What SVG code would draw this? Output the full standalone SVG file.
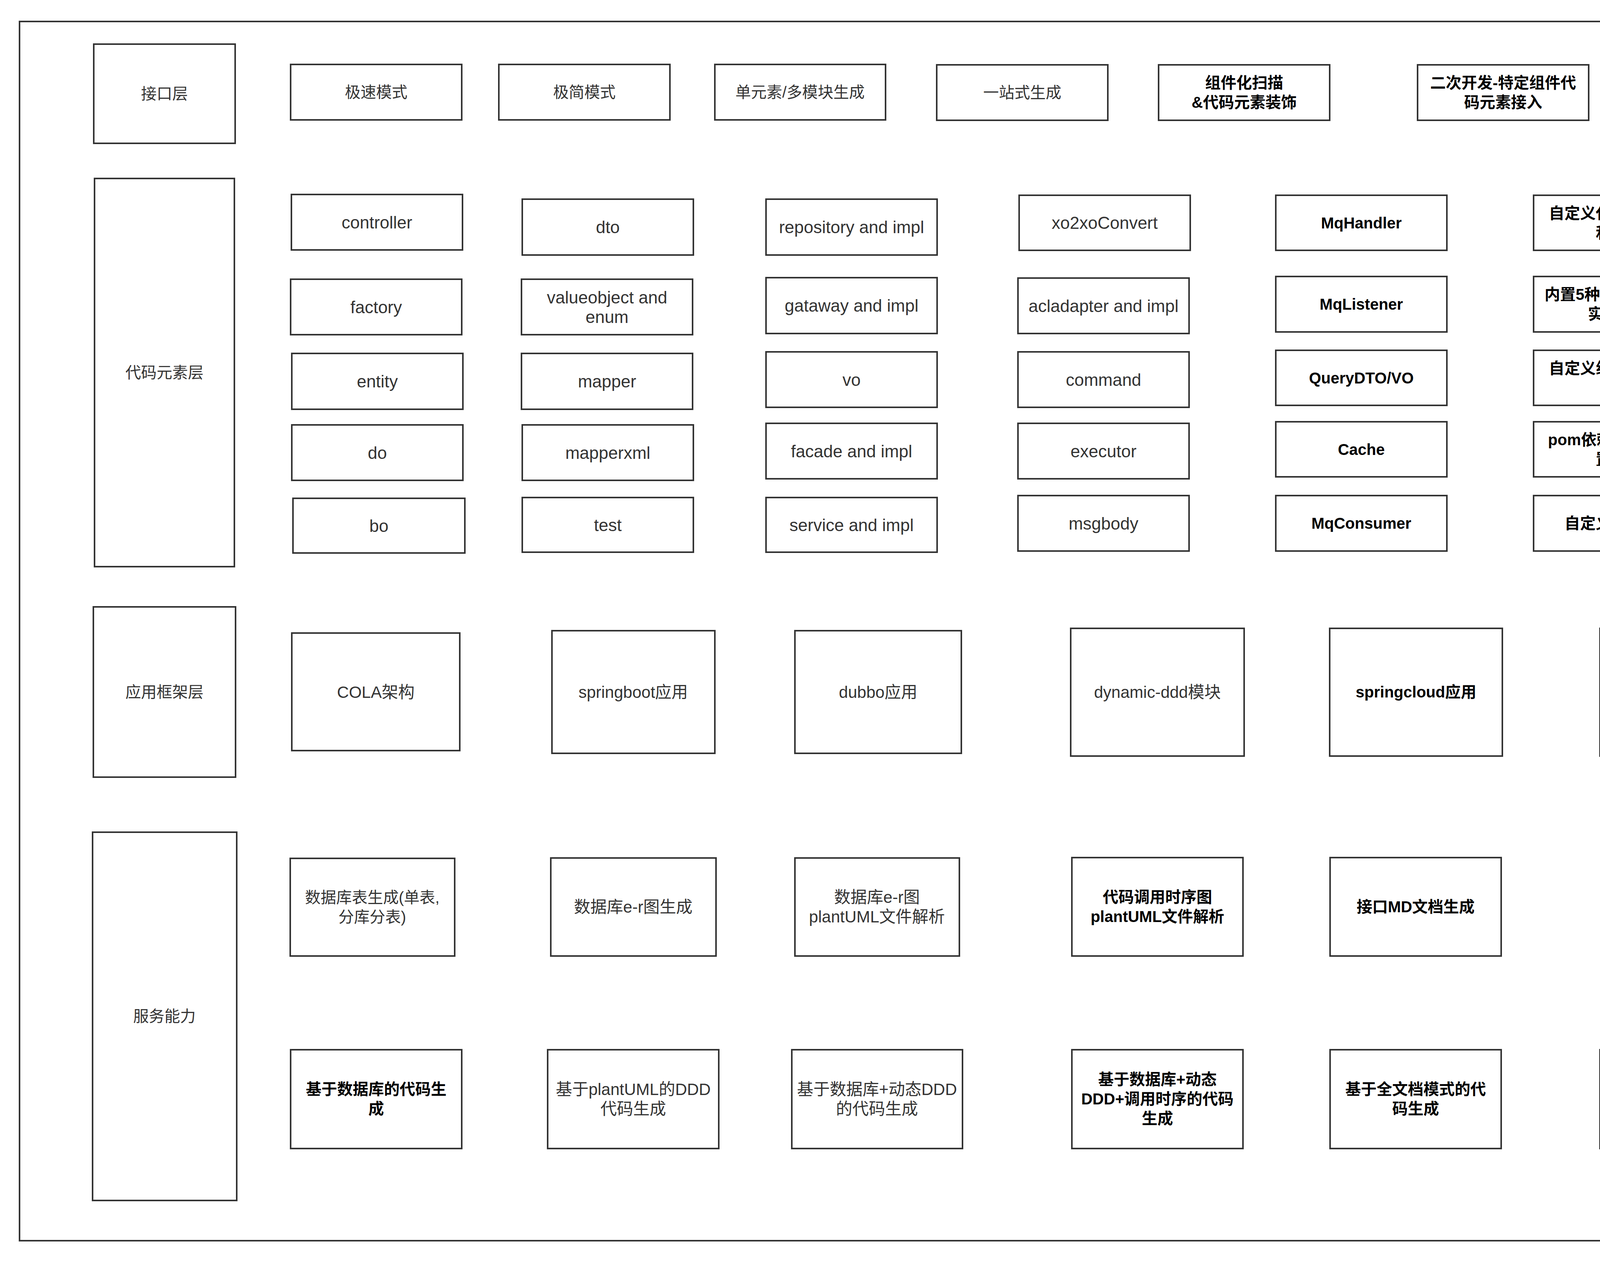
<svg xmlns="http://www.w3.org/2000/svg" width="6292" height="3229" viewBox="0 0 6292 3229">
<style>
.n{fill:#fff;stroke:#333;stroke-width:4}
.f{fill:none;stroke:#333;stroke-width:4}
.t{font-family:'Liberation Sans','Noto Sans CJK SC',sans-serif;font-size:42px;fill:#333;text-anchor:middle}
.L{font-size:44px}
.C{font-size:40px}
.k{fill:#000;font-weight:bold;font-size:40px}
.c{font-size:40px;fill:#000}
.h{font-size:60px;fill:#000;font-weight:bold}
</style>
<rect x="0" y="0" width="6292" height="3229" fill="#fff"/>
<g id="frame-main"><rect class="f" x="50" y="55" width="4609" height="3122"/></g>
<g id="connectors"/>

<g id="layer-interface"><rect class="n" x="240" y="113" width="362" height="254"/><text class="t C" x="421" y="254">接口层</text></g>
<g id="layer-code"><rect class="n" x="242" y="457" width="358" height="994"/><text class="t C" x="421" y="968">代码元素层</text></g>
<g id="layer-app"><rect class="n" x="239" y="1554" width="364" height="436"/><text class="t C" x="421" y="1786">应用框架层</text></g>
<g id="layer-service"><rect class="n" x="237" y="2131" width="369" height="943"/><text class="t C" x="421" y="2616">服务能力</text></g>

<g id="if1"><rect class="n" x="744" y="165" width="438" height="142"/><text class="t C" x="963" y="250">极速模式</text></g>
<g id="if2"><rect class="n" x="1277" y="165" width="438" height="142"/><text class="t C" x="1496" y="250">极简模式</text></g>
<g id="if3"><rect class="n" x="1830" y="165" width="437" height="142"/><text class="t C" x="2048" y="250">单元素/多模块生成</text></g>
<g id="if4"><rect class="n" x="2398" y="166" width="438" height="142"/><text class="t C" x="2617" y="251">一站式生成</text></g>
<g id="if5"><rect class="n" x="2966" y="166" width="438" height="142"/><text class="t k" x="3185"><tspan x="3185" y="226">组件化扫描</tspan><tspan x="3185" y="276">&amp;代码元素装饰</tspan></text></g>
<g id="if6"><rect class="n" x="3629" y="166" width="438" height="142"/><text class="t k" x="3848"><tspan x="3848" y="226">二次开发-特定组件代</tspan><tspan x="3848" y="276">码元素接入</tspan></text></g>

<g id="ce-controller"><rect class="n" x="746" y="498" width="438" height="142"/><text class="t L" x="965" y="585">controller</text></g>
<g id="ce-factory"><rect class="n" x="744" y="715" width="438" height="142"/><text class="t L" x="963" y="802">factory</text></g>
<g id="ce-entity"><rect class="n" x="747" y="905" width="438" height="143"/><text class="t L" x="966" y="992">entity</text></g>
<g id="ce-do"><rect class="n" x="747" y="1088" width="438" height="142"/><text class="t L" x="966" y="1175">do</text></g>
<g id="ce-bo"><rect class="n" x="750" y="1276" width="440" height="140"/><text class="t L" x="970" y="1362">bo</text></g>
<g id="ce-dto"><rect class="n" x="1337" y="510" width="438" height="143"/><text class="t L" x="1556" y="597">dto</text></g>
<g id="ce-valueobject"><rect class="n" x="1335" y="715" width="438" height="142"/><text class="t L" x="1554"><tspan x="1554" y="777">valueobject and</tspan><tspan x="1554" y="827">enum</tspan></text></g>
<g id="ce-mapper"><rect class="n" x="1335" y="905" width="438" height="143"/><text class="t L" x="1554" y="992">mapper</text></g>
<g id="ce-mapperxml"><rect class="n" x="1337" y="1088" width="438" height="142"/><text class="t L" x="1556" y="1175">mapperxml</text></g>
<g id="ce-test"><rect class="n" x="1337" y="1274" width="438" height="140"/><text class="t L" x="1556" y="1360">test</text></g>
<g id="ce-repository"><rect class="n" x="1961" y="510" width="438" height="143"/><text class="t L" x="2180" y="597">repository and impl</text></g>
<g id="ce-gataway"><rect class="n" x="1961" y="711" width="438" height="143"/><text class="t L" x="2180" y="798">gataway and impl</text></g>
<g id="ce-vo"><rect class="n" x="1961" y="901" width="438" height="142"/><text class="t L" x="2180" y="988">vo</text></g>
<g id="ce-facade"><rect class="n" x="1961" y="1084" width="438" height="142"/><text class="t L" x="2180" y="1171">facade and impl</text></g>
<g id="ce-service"><rect class="n" x="1961" y="1274" width="438" height="140"/><text class="t L" x="2180" y="1360">service and impl</text></g>
<g id="ce-xo2xo"><rect class="n" x="2609" y="500" width="438" height="141"/><text class="t L" x="2828" y="586">xo2xoConvert</text></g>
<g id="ce-acladapter"><rect class="n" x="2606" y="712" width="438" height="142"/><text class="t L" x="2825" y="799">acladapter and impl</text></g>
<g id="ce-command"><rect class="n" x="2606" y="901" width="438" height="142"/><text class="t L" x="2825" y="988">command</text></g>
<g id="ce-executor"><rect class="n" x="2606" y="1084" width="438" height="142"/><text class="t L" x="2825" y="1171">executor</text></g>
<g id="ce-msgbody"><rect class="n" x="2606" y="1269" width="438" height="142"/><text class="t L" x="2825" y="1356">msgbody</text></g>
<g id="ce-mqhandler"><rect class="n" x="3266" y="500" width="438" height="141"/><text class="t k" x="3485" y="585">MqHandler</text></g>
<g id="ce-mqlistener"><rect class="n" x="3266" y="708" width="438" height="142"/><text class="t k" x="3485" y="793">MqListener</text></g>
<g id="ce-querydto"><rect class="n" x="3266" y="897" width="438" height="141"/><text class="t k" x="3485" y="982">QueryDTO/VO</text></g>
<g id="ce-cache"><rect class="n" x="3266" y="1080" width="438" height="141"/><text class="t k" x="3485" y="1165">Cache</text></g>
<g id="ce-mqconsumer"><rect class="n" x="3266" y="1269" width="438" height="142"/><text class="t k" x="3485" y="1354">MqConsumer</text></g>
<g id="ce-template"><rect class="n" x="3926" y="500" width="439" height="141"/><text class="t k" x="4145"><tspan x="4145" y="560">自定义代码元素模版</tspan><tspan x="4145" y="610">和配置</tspan></text></g>
<g id="ce-validate"><rect class="n" x="3926" y="708" width="439" height="142"/><text class="t k" x="4145"><tspan x="4145" y="768">内置5种接口校验代码</tspan><tspan x="4145" y="818">实现生成</tspan></text></g>
<g id="ce-config"><rect class="n" x="3926" y="897" width="439" height="141"/><text class="t k" x="4145"><tspan x="4145" y="957">自定义组件配置文件</tspan><tspan x="4145" y="1007">接入</tspan></text></g>
<g id="ce-pom"><rect class="n" x="3926" y="1080" width="439" height="141"/><text class="t k" x="4145"><tspan x="4145" y="1140">pom依赖组件动态配</tspan><tspan x="4145" y="1190">置接入</tspan></text></g>
<g id="ce-annotation"><rect class="n" x="3926" y="1269" width="439" height="142"/><text class="t k" x="4145" y="1354">自定义注解生成</text></g>

<g id="app-cola"><rect class="n" x="747" y="1621" width="430" height="301"/><text class="t" x="962" y="1787">COLA架构</text></g>
<g id="app-springboot"><rect class="n" x="1413" y="1615" width="417" height="314"/><text class="t" x="1621" y="1787">springboot应用</text></g>
<g id="app-dubbo"><rect class="n" x="2035" y="1615" width="426" height="314"/><text class="t" x="2248" y="1787">dubbo应用</text></g>
<g id="app-dynamic"><rect class="n" x="2741" y="1609" width="444" height="327"/><text class="t" x="2963" y="1787">dynamic-ddd模块</text></g>
<g id="app-springcloud"><rect class="n" x="3404" y="1609" width="442" height="327"/><text class="t k" x="3625" y="1786">springcloud应用</text></g>
<g id="app-js"><rect class="n" x="4096" y="1609" width="444" height="327"/><text class="t k" x="4318" y="1786">javsScript应用</text></g>

<g id="sv-dbtable"><rect class="n" x="743" y="2198" width="421" height="250"/><text class="t C" x="953"><tspan x="953" y="2312">数据库表生成(单表,</tspan><tspan x="953" y="2362">分库分表)</tspan></text></g>
<g id="sv-er"><rect class="n" x="1410" y="2197" width="423" height="251"/><text class="t" x="1621" y="2337">数据库e-r图生成</text></g>
<g id="sv-erplant"><rect class="n" x="2035" y="2197" width="421" height="251"/><text class="t" x="2245"><tspan x="2245" y="2312">数据库e-r图</tspan><tspan x="2245" y="2362">plantUML文件解析</tspan></text></g>
<g id="sv-seq"><rect class="n" x="2744" y="2196" width="438" height="252"/><text class="t k" x="2963"><tspan x="2963" y="2311">代码调用时序图</tspan><tspan x="2963" y="2361">plantUML文件解析</tspan></text></g>
<g id="sv-md"><rect class="n" x="3405" y="2196" width="438" height="252"/><text class="t k" x="3624" y="2336">接口MD文档生成</text></g>
<g id="sv-sync"><rect class="n" x="4099" y="2196" width="438" height="252"/><text class="t k" x="4318" y="2336">文档与项目工程同步</text></g>
<g id="gen-db"><rect class="n" x="744" y="2688" width="438" height="253"/><text class="t k" x="963"><tspan x="963" y="2803">基于数据库的代码生</tspan><tspan x="963" y="2853">成</tspan></text></g>
<g id="gen-plant"><rect class="n" x="1402" y="2688" width="438" height="253"/><text class="t" x="1621"><tspan x="1621" y="2804">基于plantUML的DDD</tspan><tspan x="1621" y="2854">代码生成</tspan></text></g>
<g id="gen-dbddd"><rect class="n" x="2027" y="2688" width="437" height="253"/><text class="t" x="2245"><tspan x="2245" y="2804">基于数据库+动态DDD</tspan><tspan x="2245" y="2854">的代码生成</tspan></text></g>
<g id="gen-dbdddseq"><rect class="n" x="2744" y="2688" width="438" height="253"/><text class="t k" x="2963"><tspan x="2963" y="2778">基于数据库+动态</tspan><tspan x="2963" y="2828">DDD+调用时序的代码</tspan><tspan x="2963" y="2878">生成</tspan></text></g>
<g id="gen-doc"><rect class="n" x="3405" y="2688" width="438" height="253"/><text class="t k" x="3624"><tspan x="3624" y="2803">基于全文档模式的代</tspan><tspan x="3624" y="2853">码生成</tspan></text></g>
<g id="gen-js"><rect class="n" x="4096" y="2688" width="444" height="253"/><text class="t k" x="4318"><tspan x="4318" y="2803">基于javsScript项目的</tspan><tspan x="4318" y="2853">代码生成</tspan></text></g>

<g id="market"><rect class="n" x="4802" y="51" width="1440" height="639"/><text class="t h" x="5522" y="391">外围组件(组件市场)</text></g>
<g id="grp-framework"><rect class="n" x="4902" y="807" width="1200" height="686"/><text class="t c" x="5502" y="864">框架级组件</text></g>
<g id="fw-dubbo"><rect class="n" x="4960" y="949" width="439" height="140"/><text class="t k" x="5179" y="1033">Dubbo</text></g>
<g id="fw-springcloud"><rect class="n" x="5547" y="949" width="438" height="140"/><text class="t k" x="5766" y="1033">SpringCloud</text></g>
<g id="fw-springboot"><rect class="n" x="4960" y="1126" width="439" height="140"/><text class="t k" x="5179" y="1210">SpringBoot</text></g>
<g id="fw-alibaba"><rect class="n" x="5547" y="1126" width="438" height="140"/><text class="t k" x="5766"><tspan x="5766" y="1186">SpringCloud-</tspan><tspan x="5766" y="1235">Alibaba</tspan></text></g>
<g id="fw-self"><rect class="n" x="5251" y="1314" width="439" height="140"/><text class="t k" x="5470" y="1398">自研技术栈</text></g>
<g id="grp-app"><rect class="n" x="4902" y="1610" width="1200" height="684"/><text class="t c" x="5502" y="1692">应用级组件</text></g>
<g id="ap-api"><rect class="n" x="4960" y="1722" width="439" height="140"/><text class="t k" x="5179" y="1806">Api封装包</text></g>
<g id="ap-biz"><rect class="n" x="5547" y="1722" width="438" height="140"/><text class="t k" x="5766" y="1806">业务组件</text></g>
<g id="ap-mybatis"><rect class="n" x="4960" y="1909" width="439" height="140"/><text class="t k" x="5179" y="1993">Mybatis-plus</text></g>
<g id="ap-liteflow"><rect class="n" x="5547" y="1909" width="438" height="140"/><text class="t k" x="5766" y="1993">liteflow</text></g>
<g id="ap-starter"><rect class="n" x="5251" y="2094" width="439" height="140"/><text class="t k" x="5470" y="2178">XXXStarter</text></g>
<g id="grp-tool"><rect class="n" x="4902" y="2449" width="1200" height="687"/><text class="t c" x="5502" y="2605">工具类组件</text></g>
<g id="tl-utils"><rect class="n" x="4960" y="2704" width="439" height="140"/><text class="t k" x="5179" y="2788">XXXUtils.java</text></g>
<g id="tl-application"><rect class="n" x="5547" y="2704" width="438" height="140"/><text class="t k" x="5766" y="2788">Application.java</text></g>
<g id="tl-baseevent"><rect class="n" x="4960" y="2941" width="439" height="140"/><text class="t k" x="5179" y="3025">BaseEvent.java</text></g>
<g id="tl-aop"><rect class="n" x="5547" y="2941" width="438" height="140"/><text class="t k" x="5766" y="3025">XXXAop.java</text></g>
</svg>
